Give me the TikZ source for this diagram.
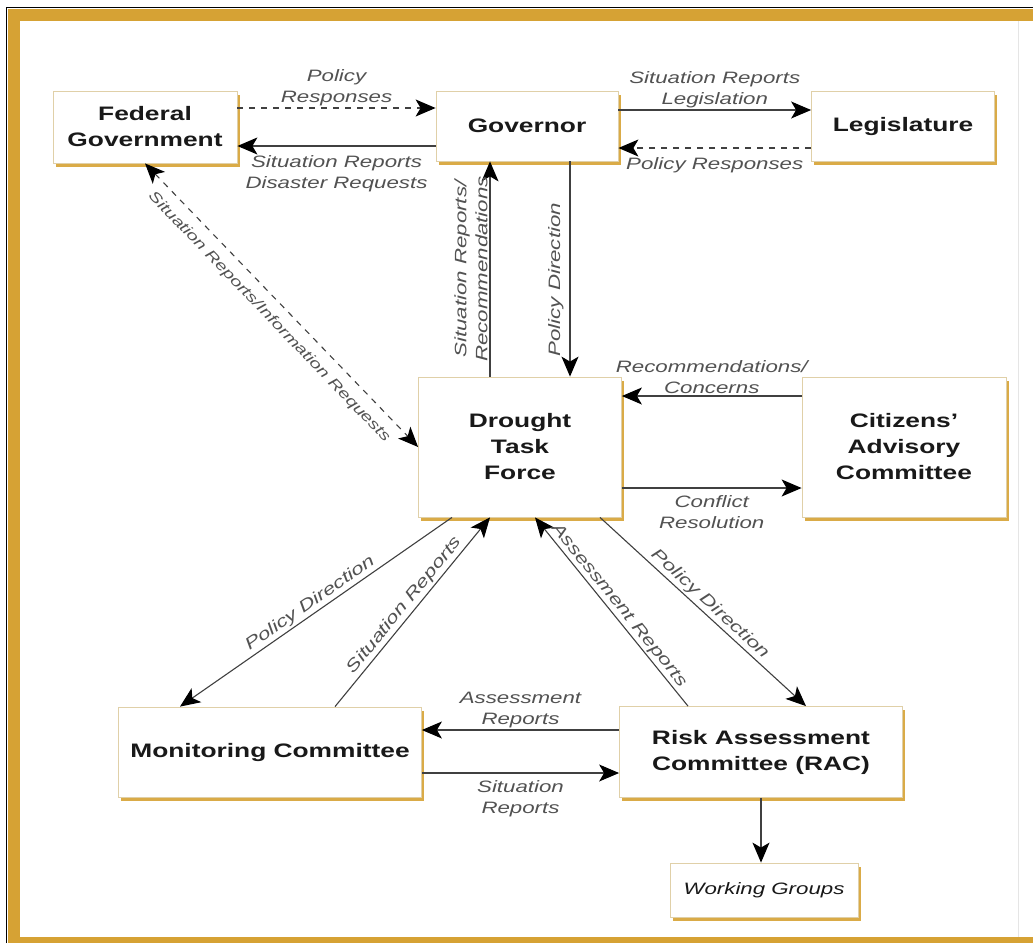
\documentclass[tikz,border=0pt]{standalone}
\usepackage{fontspec}
\setmainfont{Liberation Sans}[FakeStretch=1.35]
\usetikzlibrary{arrows.meta,shadows}
\definecolor{gold}{RGB}{214,162,52}
\definecolor{tan}{RGB}{224,208,168}
\definecolor{lbl}{RGB}{82,82,82}
\tikzset{
  >={Stealth[length=20pt,width=17pt,inset=5pt,color=black]},
  box/.style={draw=tan, line width=0.8pt, fill=white, align=center, text=black!90,
    font=\fontsize{19.5}{26}\selectfont\bfseries,
    drop shadow={shadow xshift=2.5pt, shadow yshift=-3.5pt, fill=gold, opacity=0.9}},
  lab/.style={font=\fontsize{16.5}{21}\selectfont\itshape, text=lbl, align=center, inner sep=2pt},
  link/.style={draw=black!75, line width=1.1pt, ->},
  dashline/.style={dash pattern=on 6pt off 6pt},
}
\begin{document}
\begin{tikzpicture}[x=1pt,y=-1pt]
  \useasboundingbox (0,0) rectangle (1033,943);
  % frame
  \fill[white] (0,0) rectangle (1033,943);
  \fill[gold] (8,9) rectangle (20,943);
  \fill[gold] (8,9) rectangle (1033,21);
  \fill[gold] (8,937) rectangle (1033,943);
  \draw[black, line width=1.2pt] (6.5,943) -- (6.5,7.5) -- (1033,7.5);
  \draw[black!10, line width=1pt] (1018,21) -- (1018,937);

  % boxes
  \node[box, minimum width=184pt, minimum height=72pt] (fed) at (145,127) {Federal\\Government};
  \node[box, minimum width=182pt, minimum height=70pt] (gov) at (527,126) {Governor};
  \node[box, minimum width=183pt, minimum height=70pt] (leg) at (903,126) {Legislature};
  \node[box, minimum width=203pt, minimum height=140pt] (dtf) at (520,447) {Drought\\Task\\Force};
  \node[box, minimum width=204pt, minimum height=140pt] (cac) at (904,447) {Citizens'\\Advisory\\Committee};
  \node[box, minimum width=303pt, minimum height=90pt] (mon) at (270,752) {Monitoring Committee};
  \node[box, minimum width=283pt, minimum height=91pt] (rac) at (761,752) {Risk Assessment\\Committee (RAC)};
  \node[box, minimum width=188pt, minimum height=54pt, font=\fontsize{16.5}{21}\selectfont\itshape] (wg) at (764,890) {Working Groups};

  % top row
  \draw[link, dashline] ([yshift=19pt]fed.east) -- ([yshift=19pt]fed.east -| gov.west)
    node[lab, midway, above] {Policy\\Responses};
  \draw[link] ([yshift=-20pt]gov.west) -- ([yshift=-20pt]gov.west -| fed.east)
    node[lab, midway, below=7pt] {Situation Reports\\Disaster Requests};
  \draw[link] ([yshift=16pt]gov.east) -- ([yshift=16pt]gov.east -| leg.west)
    node[lab, midway, above] {Situation Reports\\Legislation};
  \draw[link, dashline] ([yshift=-22pt]leg.west) -- ([yshift=-22pt]leg.west -| gov.east)
    node[lab, midway, below=7pt] {Policy Responses};

  % governor and task force
  \draw[link] ([xshift=-30pt]dtf.north) -- ([xshift=-30pt]dtf.north |- gov.south)
    node[lab, midway, rotate=90, above] {Situation Reports/\\Recommendations};
  \draw[link] ([xshift=43pt]gov.south) -- ([xshift=43pt]gov.south |- dtf.north)
    node[lab, pos=0.55, rotate=90, above=4pt] {Policy Direction};
  \draw[link, dashline, <->] (fed.south) -- (dtf.west)
    node[lab, midway, sloped, below=8pt, font=\fontsize{14.5}{18}\selectfont\itshape]
      {Situation Reports/Information Requests};

  % citizens
  \draw[link] ([yshift=51pt]cac.west) -- ([yshift=51pt]cac.west -| dtf.east)
    node[lab, midway, above] {Recommendations/\\Concerns};
  \draw[link] ([yshift=-41pt]dtf.east) -- ([yshift=-41pt]dtf.east -| cac.west)
    node[lab, midway, below=5pt] {Conflict\\Resolution};

  % committees
  \draw[link] ([xshift=-68pt]dtf.south) -- ([xshift=-90pt]mon.north)
    node[lab, midway, sloped, above] {Policy Direction};
  \draw[link] ([xshift=65pt]mon.north) -- ([xshift=-30pt]dtf.south)
    node[lab, midway, sloped, above] {Situation Reports};
  \draw[link] ([xshift=-73pt]rac.north) -- ([xshift=15pt]dtf.south)
    node[lab, midway, sloped, above] {Assessment Reports};
  \draw[link] ([xshift=80pt]dtf.south) -- ([xshift=45pt]rac.north)
    node[lab, midway, sloped, above] {Policy Direction};
  \draw[link] ([yshift=22pt]rac.west) -- ([yshift=22pt]rac.west -| mon.east)
    node[lab, midway, above] {Assessment\\Reports};
  \draw[link] ([yshift=-21pt]mon.east) -- ([yshift=-21pt]mon.east -| rac.west)
    node[lab, midway, below=5pt] {Situation\\Reports};
  \draw[link] (rac.south) -- (rac.south |- wg.north);
\end{tikzpicture}
\end{document}
